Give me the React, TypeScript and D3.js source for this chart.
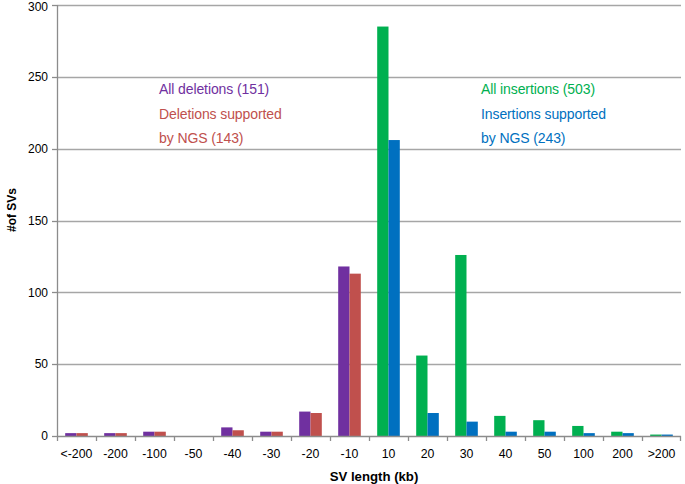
import React from "react";
import * as d3 from "d3";

const categories = ["<-200", "-200", "-100", "-50", "-40", "-30", "-20", "-10", "10", "20", "30", "40", "50", "100", "200", ">200"];
const allDeletions = [2, 2, 3, 0, 6, 3, 17, 118, 0, 0, 0, 0, 0, 0, 0, 0];
const ngsDeletions = [2, 2, 3, 0, 4, 3, 16, 113, 0, 0, 0, 0, 0, 0, 0, 0];
const allInsertions = [0, 0, 0, 0, 0, 0, 0, 0, 285, 56, 126, 14, 11, 7, 3, 1];
const ngsInsertions = [0, 0, 0, 0, 0, 0, 0, 0, 206, 16, 10, 3, 3, 2, 2, 1];
const yTicks = [0, 50, 100, 150, 200, 250, 300];

const COLORS = { allDel: "#7030A0", ngsDel: "#C0504D", allIns: "#00B050", ngsIns: "#0070C0" };

export default function App() {
  const W = 685, H = 484;
  const m = { left: 57, right: 4, top: 5, bottom: 48 };
  const x = d3.scaleBand<string>().domain(categories).range([m.left, W - m.right]).paddingInner(0).paddingOuter(0);
  const y = d3.scaleLinear().domain([0, 300]).range([H - m.bottom, m.top]);
  const bw = x.bandwidth();
  const inner = d3.scaleBand<string>().domain(["a", "b"]).range([bw * 0.21, bw * 0.79]);
  const font = "'Liberation Sans', Arial, sans-serif";
  const gridColor = "#A6A6A6";
  const axisColor = "#8C8C8C";

  const bars: { key: string; cx: number; v: number; c: string }[] = [];
  categories.forEach((cat, i) => {
    const x0 = x(cat)!;
    const isDel = i < 8;
    const first = isDel ? allDeletions[i] : allInsertions[i];
    const second = isDel ? ngsDeletions[i] : ngsInsertions[i];
    bars.push({ key: cat + "a", cx: x0 + inner("a")!, v: first, c: isDel ? COLORS.allDel : COLORS.allIns });
    bars.push({ key: cat + "b", cx: x0 + inner("b")!, v: second, c: isDel ? COLORS.ngsDel : COLORS.ngsIns });
  });

  const legend = [
    { x: 159, y: 94, t: "All deletions (151)", c: COLORS.allDel },
    { x: 159, y: 118.5, t: "Deletions supported", c: COLORS.ngsDel },
    { x: 159, y: 143, t: "by NGS (143)", c: COLORS.ngsDel },
    { x: 481, y: 94, t: "All insertions (503)", c: COLORS.allIns },
    { x: 481, y: 118.5, t: "Insertions supported", c: COLORS.ngsIns },
    { x: 481, y: 143, t: "by NGS (243)", c: COLORS.ngsIns },
  ];

  return (
    <svg width={W} height={H} style={{ position: "absolute", left: 0, top: 0, background: "#fff" }} fontFamily={font}>
      {yTicks.filter((t) => t > 0).map((t) => (
        <line key={"g" + t} x1={m.left} x2={W - m.right} y1={Math.round(y(t)) + 0.5} y2={Math.round(y(t)) + 0.5} stroke={gridColor} strokeWidth={1.3} />
      ))}
      {bars.map((b) =>
        b.v > 0 ? (
          <rect key={b.key} x={b.cx} width={inner.bandwidth()} y={y(b.v)} height={y(0) - y(b.v)} fill={b.c} />
        ) : null
      )}
      <line x1={m.left + 0.5} x2={m.left + 0.5} y1={m.top} y2={y(0)} stroke={axisColor} strokeWidth={1.3} />
      <line x1={m.left} x2={W - m.right} y1={Math.round(y(0)) + 0.5} y2={Math.round(y(0)) + 0.5} stroke={axisColor} strokeWidth={1.3} />
      {yTicks.map((t) => (
        <g key={"yt" + t}>
          <line x1={m.left - 5} x2={m.left} y1={Math.round(y(t)) + 0.5} y2={Math.round(y(t)) + 0.5} stroke={axisColor} strokeWidth={1.3} />
          <text x={48} y={Math.max(y(t), 7)} dy="0.35em" textAnchor="end" fontSize={12} fill="#000">{t}</text>
        </g>
      ))}
      {categories.map((c, i) => (
        <line key={"xt" + i} x1={x(c)! + 0.5} x2={x(c)! + 0.5} y1={y(0)} y2={y(0) + 5} stroke={axisColor} strokeWidth={1.3} />
      ))}
      <line x1={W - m.right - 0.5} x2={W - m.right - 0.5} y1={y(0)} y2={y(0) + 5} stroke={axisColor} strokeWidth={1.3} />
      {categories.map((c) => (
        <text key={"xl" + c} x={x(c)! + bw / 2} y={458} textAnchor="middle" fontSize={12.3} fill="#000">{c}</text>
      ))}
      <text x={374} y={481} textAnchor="middle" fontSize={13.2} fontWeight="bold" fill="#000">SV length (kb)</text>
      <text transform="translate(16,210) rotate(-90)" textAnchor="middle" fontSize={12} fontWeight="bold" fill="#000">#of SVs</text>
      {legend.map((l) => (
        <text key={l.t} x={l.x} y={l.y} fontSize={14} fill={l.c} letterSpacing={-0.1}>{l.t}</text>
      ))}
    </svg>
  );
}
